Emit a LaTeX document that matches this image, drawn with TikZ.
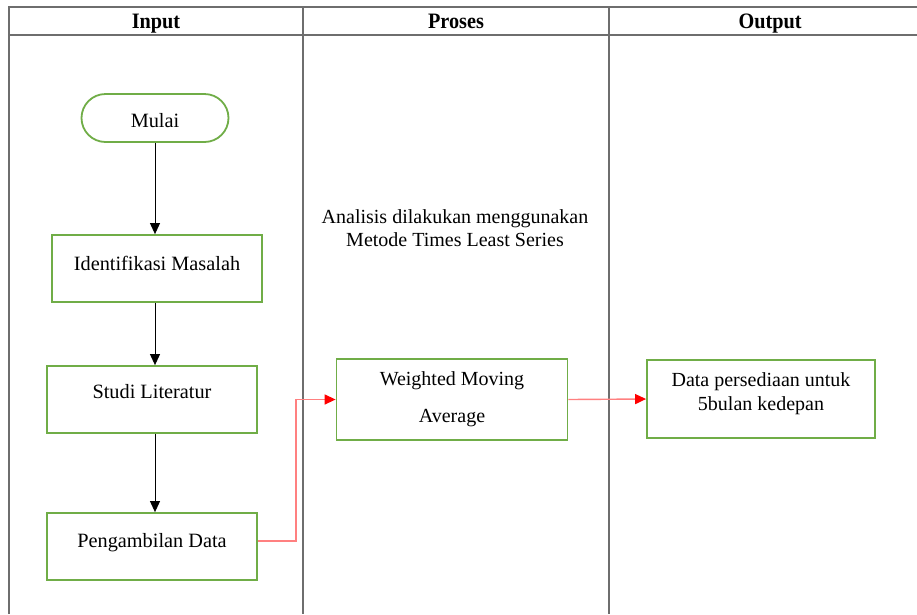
\documentclass[tikz,border=0pt]{standalone}
\usepackage{fontspec}
\setmainfont{Liberation Serif}
\usetikzlibrary{arrows.meta,positioning}
\definecolor{boxgreen}{RGB}{112,173,71}
\definecolor{linegray}{RGB}{110,110,110}
\newcommand{\shifttext}[2]{\raisebox{#1}[0pt][0pt]{#2}}
\tikzset{
  boxnode/.style={draw=boxgreen, line width=1.8pt, fill=white, inner sep=0pt, align=center,
     font=\fontsize{20.3}{23}\selectfont},
  termnode/.style={boxnode, rounded corners=24pt},
  blackarrow/.style={draw=black, line width=0.9pt, -{Triangle[length=11pt,width=10pt]}},
  redarrow/.style={draw=red!50, line width=1.4pt, -{Triangle[length=11pt,width=10pt,fill=red,color=red]}},
  lanes/.style={draw=linegray, line width=1.3pt},
  header/.style={font=\fontsize{22}{24}\selectfont\bfseries, inner sep=0pt, anchor=base, xscale=0.92},
  plaintext/.style={font=\fontsize{20}{23}\selectfont, align=center, inner sep=0pt}
}
\begin{document}
\begin{tikzpicture}[x=1pt,y=-1pt]
\useasboundingbox (0,0) rectangle (917,614);
% swimlane table
\draw[lanes] (9,614) -- (9,7) -- (917,7);
\draw[lanes] (9,35) -- (917,35);
\draw[lanes] (303,7) -- (303,614);
\draw[lanes] (609,7) -- (609,614);
\node[header] (hin) at (156,28) {Input};
\node[header] (hpr) at (456,28) {Proses};
\node[header] (hout) at (770,28) {Output};
% nodes
\node[termnode, minimum width=147pt, minimum height=48pt] (mulai) at (155,118) {\shifttext{-9.5pt}{Mulai}};
\node[boxnode, minimum width=210pt, minimum height=67pt] (ident) at (157,268.5) {\shifttext{-1.5pt}{Identifikasi Masalah}};
\node[boxnode, minimum width=210pt, minimum height=67pt] (studi) at (152,399.5) {\shifttext{1pt}{Studi Literatur}};
\node[boxnode, minimum width=210pt, minimum height=67pt] (ambil) at (152,546.5) {\shifttext{-1pt}{Pengambilan Data}};
\node[boxnode, minimum width=231pt, minimum height=81pt, font=\fontsize{20}{37}\selectfont] (wma) at (452,399.5) {Weighted Moving\\Average};
\node[boxnode, minimum width=228pt, minimum height=78pt, font=\fontsize{20}{24}\selectfont] (data) at (761,399) {\shifttext{0pt}{\begin{tabular}{@{}c@{}}Data persediaan untuk\\5bulan kedepan\end{tabular}}};
\node[plaintext] (anal) at (455,228) {Analisis dilakukan menggunakan\\Metode Times Least Series};
% connectors
\draw[blackarrow] (mulai.south -| 155,0) -- (ident.north -| 155,0);
\draw[blackarrow] (ident.south -| 155,0) -- (studi.north -| 155,0);
\draw[blackarrow] (studi.south -| 155,0) -- (ambil.north -| 155,0);
\coordinate (bend) at (296,541);
\draw[redarrow] (ambil.east |- bend) -- (bend) |- (wma.west);
\draw[redarrow] (wma.east) -- (data.west);
\end{tikzpicture}
\end{document}
